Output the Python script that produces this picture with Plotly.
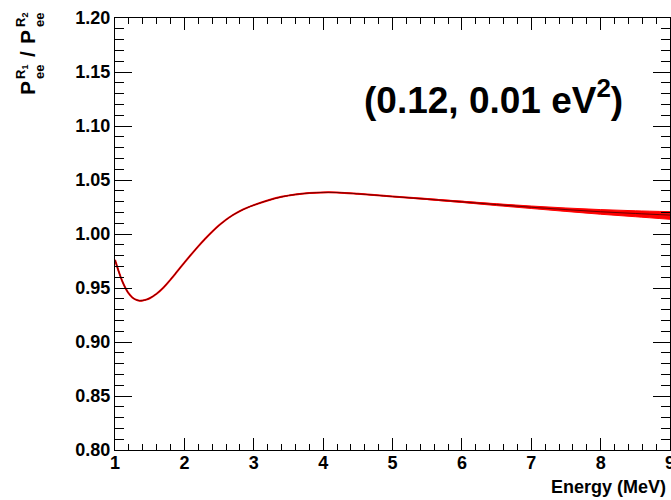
import plotly.graph_objects as go

# Ratio of survival probabilities for the two reactor distances
energy = [1.0, 1.05, 1.1, 1.15, 1.2, 1.25, 1.3, 1.35, 1.4, 1.45, 1.5, 1.6,
          1.7, 1.8, 1.9, 2.0, 2.1, 2.2, 2.3, 2.4, 2.5, 2.6, 2.7, 2.8, 2.9,
          3.0, 3.2, 3.4, 3.6, 3.8, 4.0, 4.2, 4.5, 5.0, 5.5, 6.0, 6.5, 7.0,
          7.5, 8.0, 8.5, 9.0]
ratio = [0.976, 0.966, 0.957, 0.950, 0.9447, 0.9412, 0.9392, 0.9383, 0.9384,
         0.9392, 0.9405, 0.9447, 0.9505, 0.9578, 0.9656, 0.9735, 0.9812,
         0.9886, 0.9956, 1.0021, 1.0080, 1.0132, 1.0176, 1.0212, 1.0242,
         1.0267, 1.0310, 1.0344, 1.0366, 1.0379, 1.0385, 1.0384, 1.0372,
         1.0347, 1.0323, 1.0298, 1.0272, 1.0248, 1.0226, 1.0206, 1.0190,
         1.0175]
# spread of the curve family above / below the central curve
spread_up = [0] * 34 + [0.0004, 0.0006, 0.0008, 0.0011, 0.0015, 0.0020,
                        0.0025, 0.0032]
spread_dn = [0] * 34 + [0.0004, 0.0006, 0.0009, 0.0012, 0.0017, 0.0023,
                        0.0030, 0.0039]

x_ticks = [1, 2, 3, 4, 5, 6, 7, 8, 9]
y_ticks = [0.80, 0.85, 0.90, 0.95, 1.00, 1.05, 1.10, 1.15, 1.20]

label_text = "(0.12, 0.01 eV<sup>2</sup>)"
x_title = "Energy (MeV)"

FONT = "Liberation Sans"
upper = [r + s for r, s in zip(ratio, spread_up)]
lower = [r - s for r, s in zip(ratio, spread_dn)]

fig = go.Figure()
fig.add_trace(go.Scatter(x=energy, y=upper, mode="lines",
                         line=dict(color="red", width=1, shape="spline"),
                         hoverinfo="skip", showlegend=False))
fig.add_trace(go.Scatter(x=energy, y=lower, mode="lines", fill="tonexty",
                         fillcolor="red",
                         line=dict(color="red", width=1, shape="spline"),
                         hoverinfo="skip", showlegend=False))
fig.add_trace(go.Scatter(x=energy, y=ratio, mode="lines",
                         line=dict(color="red", width=2, shape="spline"),
                         showlegend=False))
fig.add_trace(go.Scatter(x=energy, y=ratio, mode="lines",
                         line=dict(color="rgba(70,0,0,0.8)", width=1,
                                   shape="spline"),
                         showlegend=False))

tickfont = dict(family=FONT, size=18, color="black", weight="bold")

fig.update_xaxes(range=[1, 9], tickvals=x_ticks,
                 ticktext=[str(v) for v in x_ticks],
                 ticks="inside", ticklen=12, tickwidth=1, tickcolor="black",
                 showline=True, linecolor="black", linewidth=1,
                 mirror="allticks", showgrid=False, zeroline=False,
                 tickfont=tickfont, ticklabeloverflow="allow",
                 ticklabelstandoff=-4,
                 minor=dict(dtick=0.2, tick0=1, ticks="inside", ticklen=6,
                            tickwidth=1, tickcolor="black", showgrid=False))
fig.update_yaxes(range=[0.8, 1.2], tickvals=y_ticks,
                 ticktext=[f"{v:.2f}" for v in y_ticks],
                 ticks="inside", ticklen=17, tickwidth=1, tickcolor="black",
                 showline=True, linecolor="black", linewidth=1,
                 mirror="allticks", showgrid=False, zeroline=False,
                 tickfont=tickfont, ticklabeloverflow="allow",
                 minor=dict(dtick=0.01, tick0=0.8, ticks="inside", ticklen=9,
                            tickwidth=1, tickcolor="black", showgrid=False))

L, R, T, B = 115, 1, 18, 50
W, H = 671, 500
PW, PH = W - L - R, H - T - B


def px(xp):
    return (xp - L) / PW


def py(yp):
    return (H - B - yp) / PH


annotations = [
    dict(text=label_text, x=6.46, y=1.126, xref="x", yref="y",
         showarrow=False, xanchor="center", yanchor="middle",
         font=dict(family=FONT, size=37, color="black", weight="bold")),
    dict(text=x_title, x=1, y=py(487), xref="paper", yref="paper",
         xshift=-2, showarrow=False, xanchor="right", yanchor="middle",
         font=dict(family=FONT, size=18, color="black", weight="bold")),
]

# vertical axis title built from pieces so the sub/superscripts stack
big = dict(family=FONT, size=21, color="black", weight="bold")
small = dict(family=FONT, size=13, color="black", weight="bold")
pieces = [
    ("P", 27, 88, big),
    ("R<sub>1</sub>", 21, 72, small),
    ("ee", 39, 72, small),
    ("/", 27, 54, big),
    ("P", 27, 37, big),
    ("R<sub>2</sub>", 21, 20, small),
    ("ee", 39, 20, small),
]
for txt, xp, yp, fnt in pieces:
    annotations.append(dict(text=txt, x=px(xp), y=py(yp), xref="paper",
                            yref="paper", showarrow=False, textangle=-90,
                            xanchor="center", yanchor="middle", font=fnt))

fig.update_layout(width=W, height=H, margin=dict(l=L, r=R, t=T, b=B),
                  paper_bgcolor="white", plot_bgcolor="white",
                  template="none", annotations=annotations)

fig.write_html("out.html")
